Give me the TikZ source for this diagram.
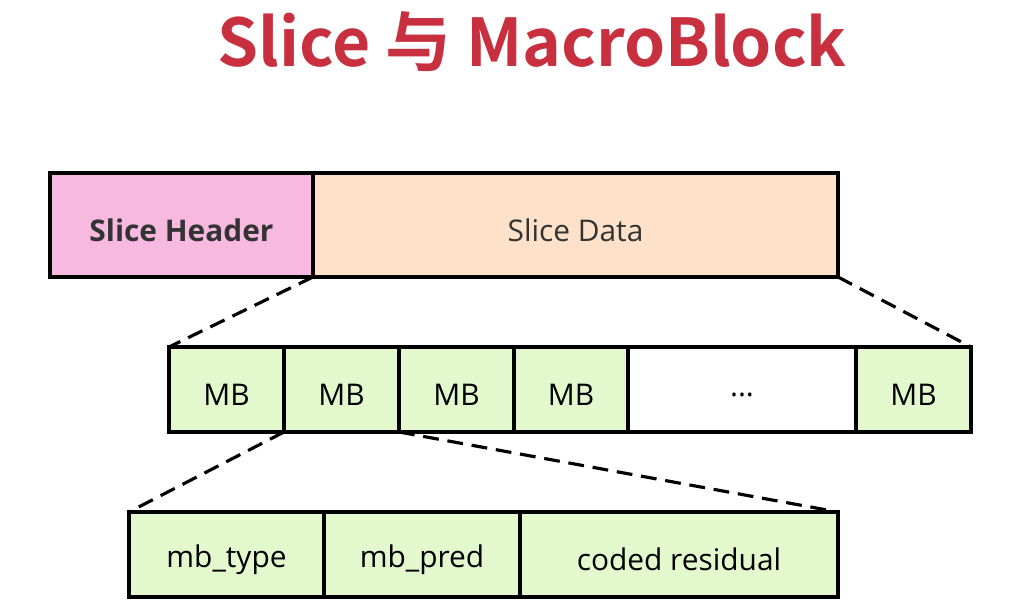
\documentclass[tikz,border=0pt]{standalone}
\usepackage{fontspec}
\setmainfont{Open Sans}
\newfontfamily\cjk{Noto Sans CJK SC}[BoldFont={* Bold}]
\definecolor{titlered}{HTML}{C8303F}
\definecolor{pinkc}{HTML}{F8B9E0}
\definecolor{peach}{HTML}{FDE1C8}
\definecolor{mbgreen}{HTML}{E4F8CE}
\begin{document}
\begin{tikzpicture}[x=0.02cm,y=-0.02cm,
 cell/.style={draw=black,line width=1.8pt,minimum height=0cm,inner sep=0pt},
 lbl/.style={font=\fontsize{17}{20}\selectfont,yshift=-3pt},
 dl/.style={line width=1.8pt,dash pattern=on 9pt off 5pt}]
\useasboundingbox (0,0) rectangle (1010,614);
\node[text=titlered,font=\cjk\bfseries\fontsize{37.5}{45}\selectfont] (title) at (532,42) {Slice 与 MacroBlock};
% top row
\path[cell,fill=pinkc] (50,173) rectangle node[lbl,font=\fontsize{17}{20}\selectfont\bfseries\color{black!80}] (sh) {Slice Header} (313,277);
\path[cell,fill=peach] (313,173) rectangle node[lbl,text=black!80] (sd) {Slice Data} (838,277);
\coordinate (sdbl) at (313,277); \coordinate (sdbr) at (838,277);
% MB row
\foreach \a/\b/\n in {169/284/1,284/399/2,399/514/3,514/628/4,856/971/6}{
 \path[cell,fill=mbgreen] (\a,347) rectangle node[lbl] (mb\n) {MB} (\b,432);}
\path[cell,fill=white] (628,347) rectangle node[lbl] (mb5) {...} (856,432);
\coordinate (mbtl) at (169,347); \coordinate (mbtr) at (971,347);
\coordinate (mb2bl) at (284,432); \coordinate (mb3bl) at (399,432);
% bottom row
\path[cell,fill=mbgreen] (129,512) rectangle node[lbl] (t) {mb\_type} (324,597);
\path[cell,fill=mbgreen] (324,512) rectangle node[lbl] (p) {mb\_pred} (520,597);
\path[cell,fill=mbgreen] (520,512) rectangle node[lbl] (r) {coded residual} (838,597);
\coordinate (btl) at (129,512); \coordinate (btr) at (838,512);
\draw[dl] (sdbl) -- (mbtl);
\draw[dl] (sdbr) -- (mbtr);
\draw[dl] (mb2bl) -- (btl);
\draw[dl] (mb3bl) -- (btr);
\end{tikzpicture}
\end{document}
